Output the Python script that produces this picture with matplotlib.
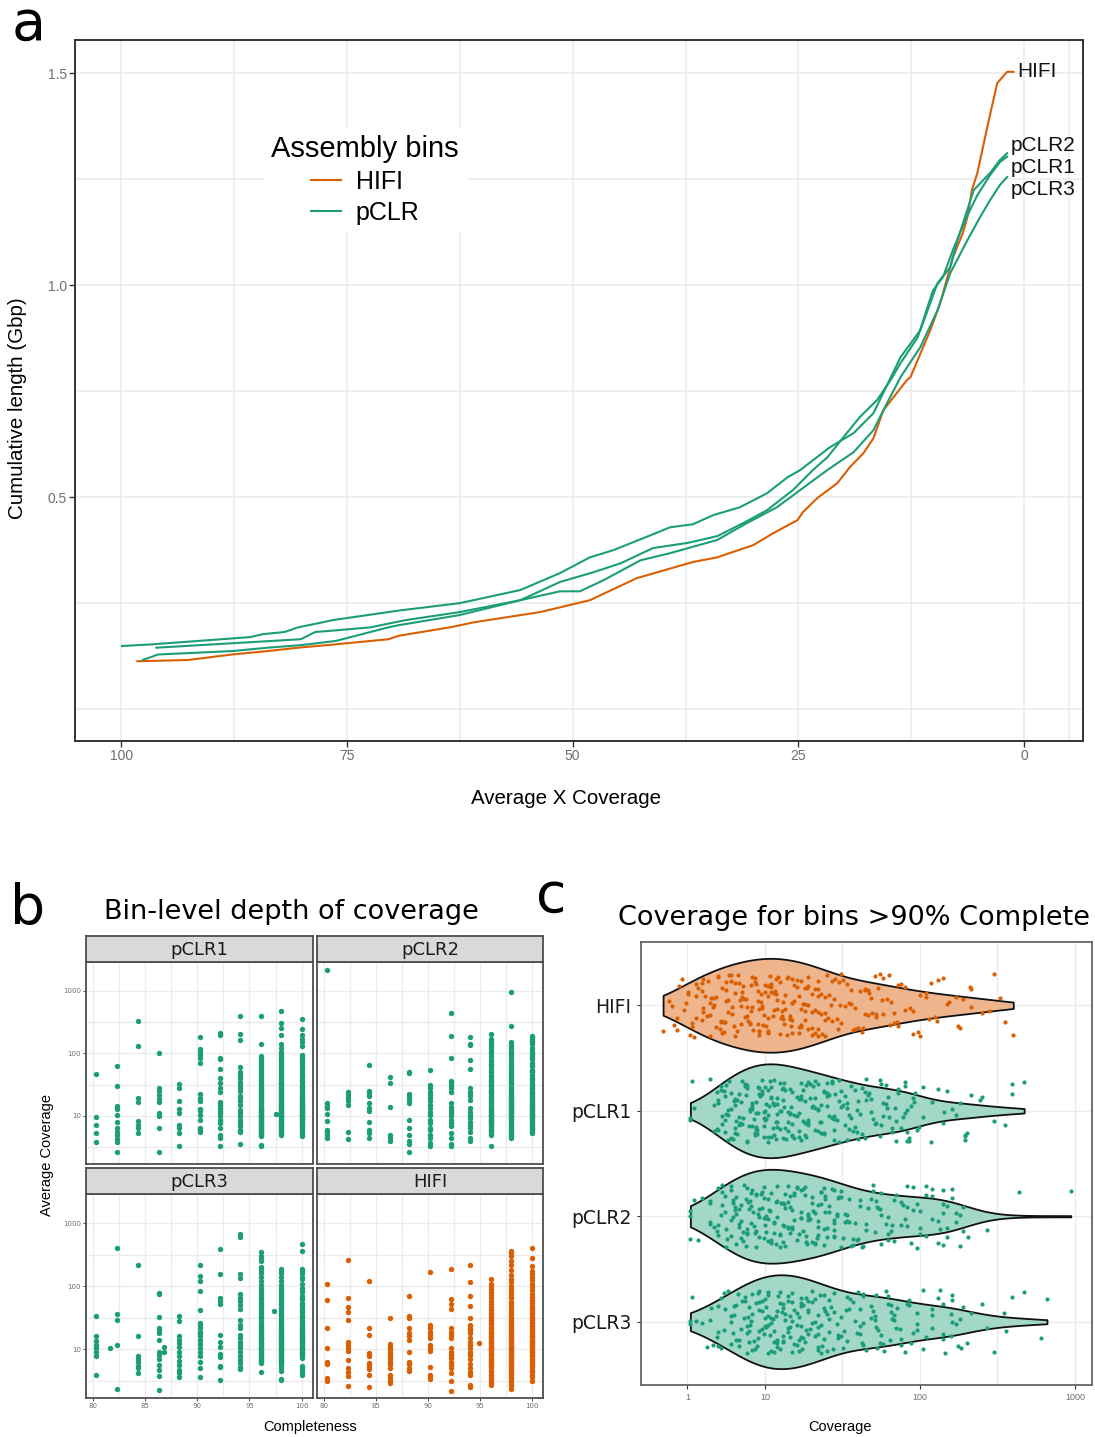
import matplotlib
matplotlib.use('Agg')
import matplotlib.pyplot as plt
from matplotlib.lines import Line2D
import numpy as np

# ---------------- data ----------------
# Panel a: cumulative assembly length (Gbp) vs average X coverage
hifi_x = [98.2, 92.6, 87.7, 83.8, 80.4, 76.2, 70.4, 69.3, 63.6, 60.9, 53.6, 48.1, 42.9, 36.7, 34.0,
          30.0, 27.8, 25.1, 24.5, 22.9, 20.7, 19.3, 17.8, 16.7, 15.6, 13.0, 12.6, 10.4, 9.3, 7.9,
          6.8, 6.3, 5.8, 5.2, 4.0, 3.0, 1.9, 1.2]
hifi_y = [0.113, 0.116, 0.129, 0.137, 0.145, 0.153, 0.165, 0.173, 0.193, 0.205, 0.229, 0.257, 0.309,
          0.347, 0.358, 0.387, 0.415, 0.446, 0.465, 0.498, 0.533, 0.571, 0.604, 0.639, 0.705, 0.776,
          0.783, 0.894, 0.958, 1.066, 1.123, 1.160, 1.224, 1.264, 1.382, 1.476, 1.503, 1.503]
pclr2_x = [99.9, 96.5, 85.7, 84.3, 81.9, 80.4, 78.1, 76.6, 69.1, 62.5, 55.8, 51.4, 48.1, 45.5, 41.4,
           39.2, 36.7, 34.4, 31.5, 28.5, 26.2, 24.8, 23.4, 21.5, 18.9, 16.7, 13.7, 11.5, 9.6, 8.2,
           7.4, 5.6, 3.8, 2.7, 1.9]
pclr2_y = [0.149, 0.153, 0.170, 0.177, 0.182, 0.193, 0.203, 0.210, 0.233, 0.250, 0.281, 0.321, 0.358,
           0.375, 0.410, 0.429, 0.436, 0.458, 0.476, 0.509, 0.547, 0.564, 0.587, 0.618, 0.651, 0.698,
           0.830, 0.894, 1.005, 1.042, 1.106, 1.224, 1.264, 1.295, 1.311]
pclr1_x = [96.1, 80.1, 78.5, 76.2, 72.4, 68.5, 62.5, 55.8, 51.4, 47.7, 44.7, 41.1, 37.3, 34.0, 31.1,
           28.5, 25.6, 23.4, 21.8, 20.0, 18.2, 16.3, 14.8, 13.7, 11.8, 10.1, 9.0, 7.9, 6.4, 5.2,
           3.8, 2.7, 1.9]
pclr1_y = [0.145, 0.165, 0.182, 0.186, 0.193, 0.210, 0.229, 0.257, 0.300, 0.323, 0.344, 0.380, 0.392,
           0.408, 0.439, 0.469, 0.517, 0.564, 0.594, 0.642, 0.689, 0.729, 0.776, 0.816, 0.877, 0.988,
           1.019, 1.083, 1.160, 1.212, 1.259, 1.290, 1.303]
pclr3_x = [97.6, 95.9, 87.7, 83.8, 80.1, 76.2, 72.4, 70.4, 69.3, 62.5, 55.8, 51.4, 49.2, 46.6, 42.5,
           39.2, 34.0, 30.7, 27.4, 24.8, 21.8, 18.9, 16.7, 15.6, 13.7, 11.5, 9.6, 8.2, 6.3, 4.9,
           3.8, 2.7, 1.9]
pclr3_y = [0.116, 0.129, 0.137, 0.145, 0.151, 0.161, 0.182, 0.193, 0.198, 0.222, 0.257, 0.278, 0.278,
           0.304, 0.351, 0.368, 0.399, 0.439, 0.476, 0.517, 0.564, 0.606, 0.658, 0.705, 0.783, 0.854,
           0.941, 1.028, 1.106, 1.160, 1.200, 1.236, 1.255]
curve_names = ['HIFI', 'pCLR2', 'pCLR1', 'pCLR3']
curve_label_y = [1.503, 1.330, 1.278, 1.226]

# Panel b: bin completeness (%) -> average coverage of bins
pclr1_bins = {
    80.3: [47, 9.5, 7.2, 5.4, 3.8],
    82.3: [62, 30, 14.4, 12.8, 10.4, 8.1, 6.4, 5.5, 4.9, 4.3, 3.8, 2.6],
    84.3: [330, 130, 19.6, 16.6, 8.3, 7.2, 6.4, 5.4],
    86.3: [100, 28, 25, 21.5, 18.6, 16.6, 11, 9.8, 6.4, 2.6],
    88.2: [32, 28, 17.5, 12.9, 11, 7.2, 6.4, 5.4, 3.3],
    90.2: [180, 118, 104, 93, 83, 69, 22, 19, 17, 13, 12, 10.4, 8.7, 6.4, 5.9, 5.5],
    92.2: [214, 195, 83, 80, 56, 40, 34, 28, 24, 16.6, 14.8, 13.2, 12, 11, 9.8, 8.7, 7.6, 6.4, 5, 4.4, 3.3],
    94.1: [390, 200, 162, 60, 51, 45, 40, 35, 31, 28, 25, 21, 19, 17, 15, 12.6, 11, 9.8, 8.7, 7.6,
           6.8, 6, 5.5, 3.5],
    96.1: [390, 140, 90, 85, 80, 72, 66, 60, 55, 50, 46, 42, 39, 36, 33, 30, 28, 26, 24, 22, 20.5,
           19, 17.5, 16, 15, 14, 13, 12, 11.2, 10.5, 9.8, 9.2, 8.6, 8, 7.4, 6.9, 6.4, 6, 5.6, 5.2,
           4.9, 4.7, 3.4, 3.3, 25, 18, 12.5, 10, 8.3, 7, 70, 58, 44, 37, 31, 27, 23, 21, 18.5, 16.5,
           14.5, 13.5, 12, 11.5, 10.2, 9.5, 8.9, 8.3, 7.7, 7.1, 6.6, 6.2, 5.8, 5.4, 5.0],
    97.5: [10.6],
    98.0: [470, 300, 250, 195, 142, 105, 98, 92, 85, 78, 72, 66, 61, 56, 52, 48, 44, 41, 38, 35, 32,
           30, 28, 26, 24, 22, 20.5, 19, 18, 17, 16, 15, 14, 13.2, 12.5, 11.8, 11, 10.4, 9.8, 9.2,
           8.7, 8.2, 7.7, 7.2, 6.8, 6.4, 6, 5.6, 5.3, 5, 13.7, 15.5, 17.5, 21, 23, 27, 29, 33, 11.5,
           10, 9, 7.9, 120, 82, 63, 47, 39, 34, 25, 22.5, 19.5, 16.5, 14.5, 12.8, 11.2, 10.1, 9.5,
           8.5, 7.5, 6.6, 5.8, 5.2],
    100.0: [355, 245, 195, 170, 150, 95, 88, 80, 70, 62, 55, 48, 42, 38, 34, 30, 27, 25, 23, 21,
            19.5, 18, 16.5, 15.5, 14.5, 13.5, 12.5, 11.5, 10.8, 10, 9.3, 8.6, 8, 7.4, 6.8, 6.3, 5.8,
            5.3, 4.9, 4.7, 20, 17, 14, 12, 11, 9, 130, 75, 58, 45, 36, 28.5, 24, 22, 18.5, 15, 13,
            11.8, 10.4, 9.6, 8.9, 8.2, 7.1, 6.5, 5.5],
}
pclr2_bins = {
    80.3: [2150, 16, 14.5, 13.2, 10.6, 8.4, 6, 5.5, 4.9, 4.4],
    82.3: [24.5, 21.5, 19, 17, 15, 5.5, 4.2],
    84.3: [66, 25, 23, 20.4, 16, 13.2, 12, 7.9, 6, 5.3, 4.5],
    86.3: [42, 33, 14, 5, 4.4, 3.9],
    88.2: [50, 49, 22, 20, 18, 16, 8.7, 6.4, 5, 3.9, 3.5, 2.6],
    90.2: [54, 31, 28, 24.5, 21.5, 19, 17, 15, 13.2, 11.7, 10.4, 8.7, 7.6, 6.4, 6, 5, 4.4, 3.7, 3.3],
    92.2: [436, 190, 83, 36, 33, 30, 28, 24.5, 16, 14, 12.6, 11, 9.8, 8.7, 7.6, 6.8, 5.3, 4.4, 3.5, 3.3],
    94.1: [182, 141, 135, 78, 56, 28, 24.5, 22, 20.4, 18, 13.2, 11.7, 10.4, 9.2, 8.1, 7.2, 6.4, 5.6,
           4.4, 3.9],
    96.1: [205, 170, 160, 150, 140, 130, 120, 110, 100, 90, 82, 75, 68, 62, 56, 50, 45, 41, 37, 34,
           31, 28, 26, 24, 22, 20, 18.5, 17, 15.5, 14.5, 13.5, 12.5, 11.5, 10.5, 9.8, 9, 8.3, 7.6, 7,
           6.5, 6, 5.5, 5, 3.3, 12, 10, 8, 16, 19, 23, 65, 53, 43, 35, 29.5, 25, 21, 17.5, 14, 13,
           11, 10.2, 9.4, 8.6, 7.9, 7.3, 6.8, 6.2, 5.7, 5.2],
    98.0: [940, 270, 150, 140, 130, 120, 110, 100, 90, 82, 75, 68, 62, 56, 51, 46, 42, 38, 35, 32, 29,
           27, 25, 23, 21, 19.5, 18, 16.5, 15, 14, 13, 12, 11, 10.2, 9.5, 8.8, 8.1, 7.5, 7, 6.5, 6,
           5.5, 5, 4.7, 4.4, 20, 17, 13.5, 11.5, 9.2, 95, 60, 48, 40, 33, 28, 24, 22, 18.8, 15.5,
           14.5, 12.5, 10.8, 9.8, 8.5, 7.8, 7.2, 6.2, 5.3, 4.9],
    100.0: [190, 180, 170, 160, 150, 140, 120, 100, 95, 88, 80, 70, 62, 55, 50, 45, 41, 37, 34, 31,
            28, 26, 24, 22, 20, 18.5, 17, 16, 15, 14, 13, 12, 11, 10.2, 9.5, 8.8, 8.1, 7.5, 7, 6.5,
            6, 5.6, 5.3, 21, 19, 15.5, 12.5, 10.6, 110, 66, 52, 39, 29, 23, 17.5, 14.5, 13.5, 11.5,
            9.8, 9.1, 8.4, 7.7, 6.8, 6.2],
}
pclr3_bins = {
    80.3: [34, 16, 13.5, 11.7, 10.4, 9.2, 7.9, 4.0],
    81.6: [10.7],
    82.3: [410, 36, 29.5, 11.7, 2.4],
    84.3: [214, 16, 7.9, 7, 6.2, 5.5, 5, 4.3],
    86.3: [78, 74, 32, 22, 20, 18, 14, 9.2, 8.1, 7, 5.6, 4.7, 3.8, 2.3],
    86.8: [11, 9],
    88.2: [34, 28, 16, 14, 12.6, 11, 9.2, 7.9, 6.6, 5.6, 4.7, 4.2, 3.6],
    90.2: [214, 145, 120, 83, 42, 26, 24, 22, 19, 17.4, 16, 14, 12, 10.4, 9.2, 7.9, 6.3, 5, 3.6],
    92.2: [390, 158, 65, 59, 52, 17, 13, 11, 8.3, 7.6, 5.5, 5.2, 3.3],
    94.1: [660, 600, 158, 135, 74, 65, 58, 51, 43, 29.5, 24.5, 22, 17, 15, 13, 11.7, 10.4, 9.2, 7.9,
           6.8, 6, 5.2, 4.9],
    96.1: [350, 300, 270, 250, 200, 180, 160, 140, 120, 105, 95, 85, 75, 68, 60, 54, 48, 43, 38, 34,
           31, 28, 25, 22, 20, 18, 16.5, 15, 14, 13, 12, 11, 10, 9, 8.3, 7.6, 7, 6.5, 6, 4.4, 22.5,
           19, 15.5, 12.5, 10.5, 9.5, 64, 51, 40, 32.5, 26.5, 23.5, 21, 17.2, 14.5, 12.8, 11.5,
           10.2, 8.8, 7.9, 7.3, 6.7, 6.2],
    97.4: [41],
    98.0: [185, 170, 160, 140, 120, 105, 95, 85, 75, 68, 62, 56, 50, 45, 41, 37, 34, 31, 28, 26, 24,
           22, 20, 18.5, 17, 16, 15, 14, 13, 12, 11.2, 10.5, 9.8, 9.2, 8.6, 8, 7.4, 6.8, 6.3, 5.8,
           5.4, 5, 4.6, 3.3, 3.4, 21, 19, 16.5, 14.5, 12.5, 11.5, 10, 9, 90, 71, 53, 43, 35.5, 29.5,
           25, 23, 19.5, 17.5, 15.5, 13.5, 12.2, 10.8, 9.5, 8.3, 7.7, 7.1, 6.5, 6],
    100.0: [470, 360, 190, 175, 160, 130, 110, 95, 80, 70, 62, 55, 48, 43, 39, 35, 32, 29, 26, 24,
            22, 20, 18.5, 17, 16, 15, 14, 13, 12, 11, 10, 9.2, 8.5, 7.8, 5.4, 5, 4.5, 4.2, 3.9, 21,
            17.5, 13.5, 10.5, 9.5, 140, 88, 66, 52, 41, 33.5, 27.5, 23, 19, 16.5, 14.5, 12.5, 11.5,
            10.2, 8.9, 8.1, 7.4],
}
hifi_bins = {
    80.3: [110, 60, 22, 10.4, 6.3, 5.8, 3.5, 3.2],
    82.3: [260, 66, 47, 39, 29.5, 13, 11.7, 10.6, 9.4, 6.8, 5, 4.4, 3.8, 2.6],
    84.3: [123, 22, 17, 8.7, 7.9, 6, 5.5, 4.9, 4, 2.5],
    86.3: [31, 12.3, 11, 10.2, 9.2, 8.3, 7.6, 7, 6.3, 5.8, 5.1, 4, 3.5, 3.1, 2.9],
    88.2: [69, 34, 31, 22, 18, 16, 14, 9.2, 6.3, 5.8, 5.1, 4.5],
    90.2: [170, 24.5, 22, 18.6, 17, 15, 11.7, 10.4, 9.4, 5.3, 4, 3.6, 3.4],
    92.2: [190, 63, 52, 44, 22, 19, 17, 15, 10.4, 9.2, 8.1, 7.2, 6.3, 5.6, 5, 4.2, 3.2, 2.2],
    94.1: [214, 117, 71, 48, 31, 24.5, 22, 20, 18, 15, 13, 11.7, 10.4, 9.2, 8.1, 7, 5.8, 5, 4.4,
           3.9, 2.7, 2.5],
    94.9: [12.5],
    96.1: [128, 110, 100, 90, 80, 72, 65, 58, 52, 47, 42, 38, 34, 31, 28, 25, 23, 21, 19, 17.5, 16,
           14.5, 13.5, 12.5, 11.5, 10.5, 9.7, 9, 8.3, 7.7, 7.1, 6.6, 6.1, 5.6, 5.2, 4.8, 4.4, 4, 3.7,
           3.4, 3.1, 2.9, 2.7, 20, 15, 12, 10, 8, 6.9, 5.9, 44, 36, 29.5, 26.5, 22, 18.2, 16.5,
           13.8, 12.8, 11, 10.2, 9.4, 8.6, 7.4, 6.4, 5.4, 4.6, 3.9],
    98.0: [355, 330, 300, 250, 215, 180, 150, 130, 115, 100, 90, 80, 72, 64, 57, 51, 46, 41, 37, 33,
           30, 27, 24.5, 22, 20, 18, 16.5, 15, 13.8, 12.6, 11.5, 10.5, 9.6, 8.8, 8, 7.3, 6.7, 6.1,
           5.6, 5.1, 4.7, 4.3, 3.9, 3.6, 3.3, 3, 2.8, 2.6, 2.4, 19, 14.5, 11, 9.2, 7.6, 6.4, 5.4,
           4.5, 3.5, 68, 54, 43, 35, 28.5, 25.5, 23, 21, 17, 15.5, 13.2, 12, 10.8, 9.9, 9, 8.4, 7,
           6, 5.2, 4.1],
    100.0: [400, 280, 210, 175, 155, 140, 125, 110, 97, 86, 76, 68, 61, 55, 49, 44, 40, 36, 32, 29,
            26, 23.5, 21, 19, 17, 15.5, 14, 12.8, 11.6, 10.5, 9.5, 8.6, 7.8, 7.1, 6.4, 5.8, 5.3, 4.8,
            4.4, 4, 3.6, 3.2, 16.5, 13.5, 11, 9, 7.5, 6, 58, 46, 38, 30.5, 27, 24.5, 22, 20, 18,
            16, 14.8, 13, 12.2, 11.2, 10, 9.2, 8.2, 6.8, 5.5, 4.6],
}
facet_names = ['pCLR1', 'pCLR2', 'pCLR3', 'HIFI']
violin_groups = ['HIFI', 'pCLR1', 'pCLR2', 'pCLR3']
completeness_cut = 90

# ---------------- style ----------------
ORANGE = '#d95f02'
GREEN = '#1b9e77'
FILL = {'HIFI': '#eeb58c', 'pCLR1': '#a3d8c8', 'pCLR2': '#a3d8c8', 'pCLR3': '#a3d8c8'}
GRID = '#ebebeb'
SPINE = '#333333'
TICKLAB = '#6e6e6e'
ARIAL = ['Liberation Sans', 'DejaVu Sans']
VERD = ['DejaVu Sans']

W, H = 1095, 1437
fig = plt.figure(figsize=(W / 100, H / 100), dpi=100)


def add_ax(x0, y0, x1, y1):
    return fig.add_axes([x0 / W, 1 - y1 / H, (x1 - x0) / W, (y1 - y0) / H])


def ftext(x, y, s, **kw):
    return fig.text(x / W, 1 - y / H, s, **kw)


def frame(ax, color=SPINE, lw=1.2):
    for sp in ax.spines.values():
        sp.set_color(color)
        sp.set_linewidth(lw)


# ---------------- panel a ----------------
ax = add_ax(75, 40, 1083, 741)
curves = {'HIFI': (hifi_x, hifi_y, ORANGE), 'pCLR2': (pclr2_x, pclr2_y, GREEN),
          'pCLR1': (pclr1_x, pclr1_y, GREEN), 'pCLR3': (pclr3_x, pclr3_y, GREEN)}
for name, ly in zip(curve_names, curve_label_y):
    xs, ys, c = curves[name]
    ax.plot(xs, ys, color=c, lw=1.5, solid_joinstyle='round', zorder=3)
    ax.text(xs[-1] - 0.4, ly, name, ha='left', va='center', fontsize=15,
            family=ARIAL, color='#111111', zorder=4)
ax.set_xlim(105.1, -6.5)
ax.set_ylim(-0.075, 1.578)
ax.set_xticks([100, 75, 50, 25, 0])
ax.set_xticklabels(['100', '75', '50', '25', '0'])
ax.set_xticks([87.5, 62.5, 37.5, 12.5, -5], minor=True)
ax.set_yticks([0.5, 1.0, 1.5])
ax.set_yticklabels(['0.5', '1.0', '1.5'])
ax.set_yticks([0.0, 0.25, 0.75, 1.25], minor=True)
ax.grid(which='both', color=GRID, lw=1.1)
ax.set_axisbelow(True)
ax.tick_params(which='minor', length=0)
ax.tick_params(which='major', length=4, width=1, color=SPINE, pad=2, labelsize=10, labelcolor=TICKLAB)
for lab in ax.get_xticklabels() + ax.get_yticklabels():
    lab.set_family(ARIAL)
frame(ax, lw=1.4)
leg = ax.legend(handles=[Line2D([], [], color=ORANGE, lw=1.5), Line2D([], [], color=GREEN, lw=1.5)],
                labels=['HIFI', 'pCLR'], title='Assembly bins', loc='upper left',
                bbox_to_anchor=(0.175, 0.893), frameon=True, facecolor='white', edgecolor='none',
                framealpha=1, prop={'family': ARIAL, 'size': 18}, handlelength=1.2,
                handletextpad=0.6, labelspacing=0.28, borderpad=0.3)
leg.get_title().set_fontsize(21)
leg.get_title().set_family(ARIAL)
ftext(566, 798, 'Average X Coverage', ha='center', va='center', fontsize=14.8, family=ARIAL)
ftext(18, 408, 'Cumulative length (Gbp)', ha='center', va='center', rotation=90, fontsize=14.8,
      family=ARIAL)
ftext(12, 40, 'a', ha='left', va='baseline', fontsize=40, family=VERD)

# ---------------- panel b ----------------
bins_by_name = {'pCLR1': pclr1_bins, 'pCLR2': pclr2_bins, 'pCLR3': pclr3_bins, 'HIFI': hifi_bins}
cols = [(86, 313), (317, 543)]
rows = [(936, 962, 1164), (1168, 1194, 1398)]
for i, name in enumerate(facet_names):
    r, cidx = divmod(i, 2)
    x0, x1 = cols[cidx]
    st, pt, pb = rows[r]
    color = ORANGE if name == 'HIFI' else GREEN
    axb = add_ax(x0, pt, x1, pb)
    xs, ys = [], []
    for comp, vals in bins_by_name[name].items():
        xs += [comp] * len(vals)
        ys += vals
    axb.scatter(xs, ys, s=15, color=color, linewidths=0, zorder=3)
    axb.set_yscale('log')
    axb.set_ylim(10 ** 0.23, 10 ** 3.46)
    axb.set_xlim(79.3, 101.1)
    axb.set_yticks([10, 100, 1000])
    axb.set_yticks([10 ** 0.5, 10 ** 1.5, 10 ** 2.5], minor=True)
    axb.set_xticks([80, 85, 90, 95, 100])
    axb.set_xticks([82.5, 87.5, 92.5, 97.5], minor=True)
    axb.grid(which='both', color=GRID, lw=0.9)
    axb.set_axisbelow(True)
    axb.tick_params(which='minor', length=0, labelleft=False, labelbottom=False)
    axb.tick_params(which='major', length=2, width=0.6, color=SPINE, pad=1.5, labelsize=5,
                    labelcolor=TICKLAB)
    if cidx == 0:
        axb.set_yticklabels(['10', '100', '1000'])
    else:
        axb.tick_params(axis='y', which='major', length=0, labelleft=False)
    if r == 1:
        axb.set_xticklabels(['80', '85', '90', '95', '100'])
    else:
        axb.tick_params(axis='x', which='major', length=0, labelbottom=False)
    frame(axb, color='#4d4d4d', lw=1.3)
    axs = add_ax(x0, st, x1, pt)
    axs.set_facecolor('#d9d9d9')
    axs.set_xticks([])
    axs.set_yticks([])
    frame(axs, color='#4d4d4d', lw=1.3)
    axs.text(0.5, 0.45, name, transform=axs.transAxes, ha='center', va='center', fontsize=13,
             family=VERD, color='#1a1a1a')
ftext(291, 912, 'Bin-level depth of coverage', ha='center', va='center', fontsize=19.5, family=VERD)
ftext(310, 1427, 'Completeness', ha='center', va='center', fontsize=10.5, family=ARIAL)
ftext(47, 1155, 'Average Coverage', ha='center', va='center', rotation=90, fontsize=10.5, family=ARIAL)
ftext(10, 924, 'b', ha='left', va='baseline', fontsize=40, family=VERD)

# ---------------- panel c ----------------
axc = add_ax(641, 942, 1092, 1385)
logvals = []
for name in violin_groups:
    vals = [v for comp, vs in bins_by_name[name].items() if comp > completeness_cut for v in vs]
    logvals.append(np.log10(np.array(vals, dtype=float)))
positions = np.arange(1, len(violin_groups) + 1)
try:
    parts = axc.violinplot(logvals, positions=positions, orientation='horizontal', widths=0.89,
                           showextrema=False, points=200)
except TypeError:
    parts = axc.violinplot(logvals, positions=positions, vert=False, widths=0.89,
                           showextrema=False, points=200)
for body, name in zip(parts['bodies'], violin_groups):
    body.set_facecolor(FILL[name])
    body.set_edgecolor('#111111')
    body.set_linewidth(1.3)
    body.set_alpha(1)
    body.set_zorder(2)
for pos, name, lv in zip(positions, violin_groups, logvals):
    k = np.arange(len(lv))
    jitter = ((k * 0.6180339887 + 0.37) % 1.0 - 0.5) * 0.6
    color = ORANGE if name == 'HIFI' else GREEN
    axc.scatter(lv, pos + jitter, s=9, color=color, linewidths=0, zorder=3)
axc.set_ylim(4.6, 0.4)
axc.set_xlim(0.2, 3.11)
axc.set_yticks(positions)
axc.set_yticklabels(violin_groups)
axc.set_xticks([0.5, 1, 2, 3])
axc.set_xticklabels(['1', '10', '100', '1000'])
axc.set_xticks([1.5, 2.5], minor=True)
axc.grid(which='both', color=GRID, lw=1)
axc.set_axisbelow(True)
axc.tick_params(which='minor', length=0)
axc.tick_params(axis='x', which='major', length=3, width=0.8, color=SPINE, pad=3, labelsize=6.5,
                labelcolor=TICKLAB)
axc.tick_params(axis='y', which='major', length=3, width=0.8, color=SPINE, pad=4, labelsize=13.5,
                labelcolor='#1a1a1a')
for lab in axc.get_yticklabels():
    lab.set_family(VERD)
for lab in axc.get_xticklabels():
    lab.set_family(ARIAL)
frame(axc, color='#666666', lw=1.3)
ftext(854, 918, 'Coverage for bins >90% Complete', ha='center', va='center', fontsize=19.5,
      family=VERD)
ftext(840, 1427, 'Coverage', ha='center', va='center', fontsize=10.5, family=ARIAL)
ftext(536, 912, 'c', ha='left', va='baseline', fontsize=40, family=VERD)

fig.savefig('out.png', dpi=100, facecolor='white')
